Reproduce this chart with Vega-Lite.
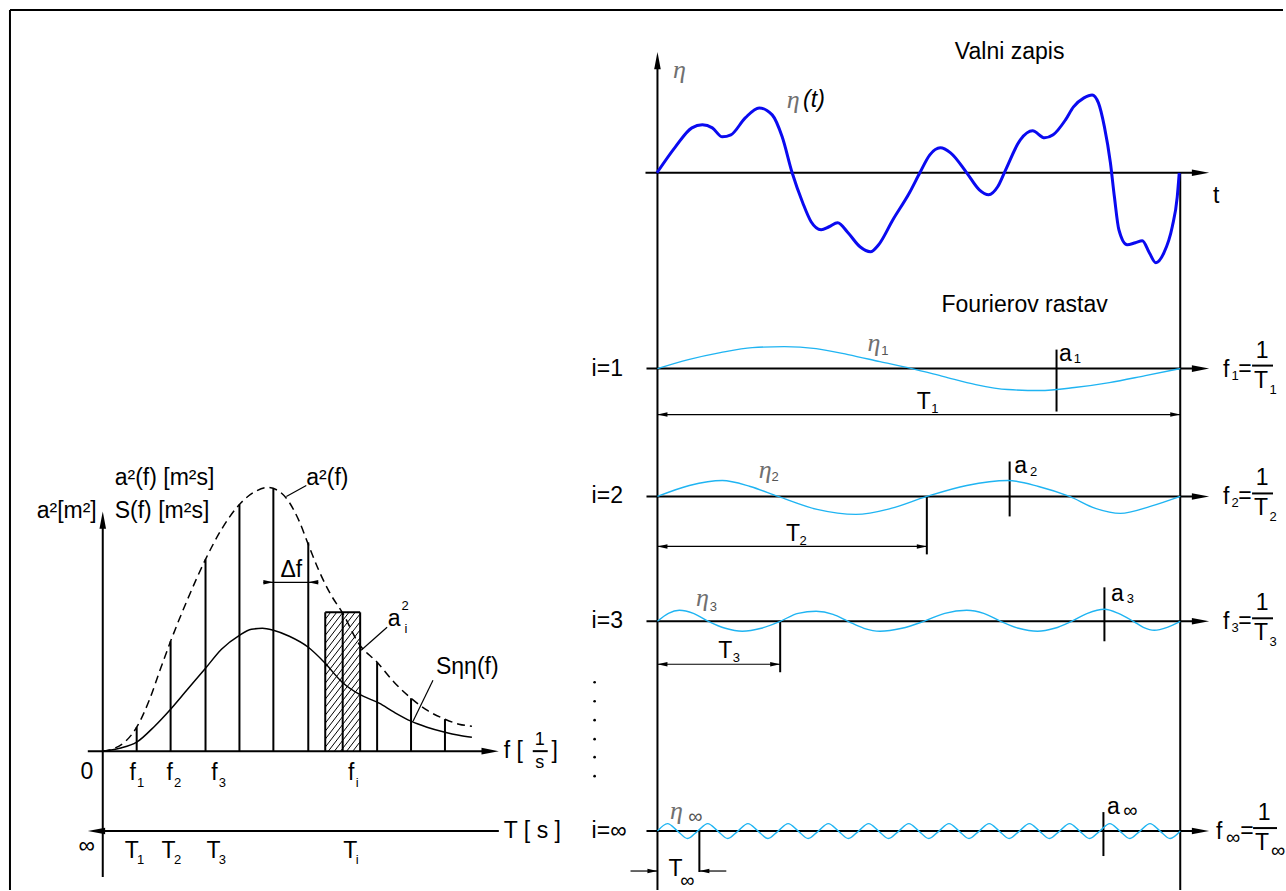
{
"$schema": "https://vega.github.io/schema/vega-lite/v6.json",
"width": 1286, "height": 891,
"autosize": {"type": "fit", "contains": "padding"},
"padding": 0,
"background": "white",
"config": {"view": {"stroke": null}},
"datasets": {
"thick": [
{"x":10,"y":10,"x2":1286,"y2":10},{"x":10,"y":10,"x2":10,"y2":891},
{"x":103,"y":878,"x2":103,"y2":522},{"x":88,"y":752,"x2":490,"y2":752},{"x":98,"y":832,"x2":500,"y2":832},
{"x":137,"y":752,"x2":137,"y2":728},{"x":171,"y":752,"x2":171,"y2":642},{"x":206,"y":752,"x2":206,"y2":560},
{"x":240,"y":752,"x2":240,"y2":505},{"x":274,"y":752,"x2":274,"y2":489},{"x":309,"y":752,"x2":309,"y2":543},
{"x":378,"y":752,"x2":378,"y2":663},{"x":412,"y":752,"x2":412,"y2":699},{"x":446,"y":752,"x2":446,"y2":720},
{"x":326,"y":613,"x2":361,"y2":613},{"x":326,"y":613,"x2":326,"y2":752},{"x":361,"y":613,"x2":361,"y2":752},{"x":343.5,"y":613,"x2":343.5,"y2":752},
{"x":659,"y":891,"x2":659,"y2":64},{"x":1183,"y":173,"x2":1183,"y2":891},
{"x":647,"y":173,"x2":1200,"y2":173},{"x":648,"y":369,"x2":1200,"y2":369},{"x":648,"y":497,"x2":1200,"y2":497},
{"x":648,"y":622,"x2":1200,"y2":622},{"x":648,"y":832,"x2":1200,"y2":832},
{"x":929,"y":497,"x2":929,"y2":555},{"x":782,"y":622,"x2":782,"y2":673},{"x":701,"y":832,"x2":701,"y2":873},
{"x":1059,"y":350,"x2":1059,"y2":412},{"x":1012,"y":462,"x2":1012,"y2":517},{"x":1107,"y":588,"x2":1107,"y2":642},{"x":1106,"y":813,"x2":1106,"y2":857},
{"x":1255,"y":366,"x2":1276,"y2":366},{"x":1255,"y":494,"x2":1276,"y2":494},{"x":1255,"y":619,"x2":1276,"y2":619},{"x":1256,"y":829,"x2":1280,"y2":829},
{"x":534,"y":752,"x2":549,"y2":752}
],
"thin": [
{"x":659,"y":415,"x2":1183,"y2":415},{"x":659,"y":547,"x2":929,"y2":547},{"x":659,"y":665,"x2":782,"y2":665},
{"x":632,"y":872,"x2":659,"y2":872},{"x":701,"y":872,"x2":728,"y2":872},{"x":264,"y":583,"x2":319,"y2":583},
{"x":307,"y":486,"x2":287,"y2":497},{"x":388,"y":628,"x2":362,"y2":651},{"x":434,"y":681,"x2":414,"y2":722}
],
"hatch": [
{"x":326,"y":620,"x2":331.4,"y2":613},{"x":326,"y":628,"x2":337.5,"y2":613},{"x":326,"y":636,"x2":343.7,"y2":613},
{"x":326,"y":644,"x2":349.8,"y2":613},{"x":326,"y":652,"x2":356,"y2":613},{"x":326,"y":660,"x2":361,"y2":614.5},
{"x":326,"y":668,"x2":361,"y2":622.5},{"x":326,"y":676,"x2":361,"y2":630.5},{"x":326,"y":684,"x2":361,"y2":638.5},
{"x":326,"y":692,"x2":361,"y2":646.5},{"x":326,"y":700,"x2":361,"y2":654.5},{"x":326,"y":708,"x2":361,"y2":662.5},
{"x":326,"y":716,"x2":361,"y2":670.5},{"x":326,"y":724,"x2":361,"y2":678.5},{"x":326,"y":732,"x2":361,"y2":686.5},
{"x":326,"y":740,"x2":361,"y2":694.5},{"x":326,"y":748,"x2":361,"y2":702.5},{"x":329.1,"y":752,"x2":361,"y2":710.5},
{"x":335.2,"y":752,"x2":361,"y2":718.5},{"x":341.4,"y":752,"x2":361,"y2":726.5},{"x":347.5,"y":752,"x2":361,"y2":734.5},
{"x":353.7,"y":752,"x2":361,"y2":742.5},{"x":359.8,"y":752,"x2":361,"y2":750.5}
],
"bigR": [{"x":500,"y":752},{"x":1212,"y":173},{"x":1212,"y":369},{"x":1212,"y":497},{"x":1212,"y":622},{"x":1212,"y":832}],
"bigL": [{"x":88,"y":832}],
"bigU": [{"x":103,"y":512},{"x":659,"y":52}],
"dimR": [{"x":1183,"y":415},{"x":929,"y":547},{"x":782,"y":665},{"x":659,"y":872},{"x":274,"y":583}],
"dimL": [{"x":659,"y":415},{"x":659,"y":547},{"x":659,"y":665},{"x":701,"y":872},{"x":309,"y":583}],
"dots": [{"x":596,"y":683},{"x":596,"y":702},{"x":596,"y":721},{"x":596,"y":740},{"x":596,"y":758},{"x":596,"y":777}],
"dash": [
{"x":103,"y":752},{"x":115,"y":749},{"x":126,"y":742},{"x":137,"y":728},{"x":150,"y":700},{"x":160,"y":672},{"x":171,"y":642},
{"x":188,"y":600},{"x":206,"y":560},{"x":222,"y":530},{"x":240,"y":505},{"x":256,"y":492},{"x":268,"y":488},{"x":280,"y":492},
{"x":290,"y":503},{"x":300,"y":522},{"x":309,"y":545},{"x":320,"y":572},{"x":332,"y":596},{"x":343,"y":613},{"x":360,"y":645},
{"x":378,"y":663},{"x":395,"y":683},{"x":412,"y":699},{"x":428,"y":711},{"x":446,"y":720},{"x":460,"y":725},{"x":473,"y":727}
],
"spec": [
{"x":103,"y":752},{"x":120,"y":749},{"x":137,"y":743},{"x":155,"y":727},{"x":171,"y":710},{"x":188,"y":690},{"x":206,"y":669},
{"x":222,"y":650},{"x":240,"y":636},{"x":252,"y":630},{"x":263,"y":629},{"x":274,"y":631},{"x":290,"y":637},{"x":309,"y":648},
{"x":325,"y":663},{"x":343,"y":683},{"x":360,"y":695},{"x":380,"y":704},{"x":395,"y":713},{"x":412,"y":722},{"x":428,"y":728},
{"x":446,"y":733},{"x":460,"y":736},{"x":473,"y":738}
],
"wave": [
{"x":658.5,"y":173},{"x":677,"y":147},{"x":693.5,"y":128},{"x":704,"y":125},{"x":714,"y":128},{"x":724,"y":137},{"x":732.6,"y":135},
{"x":747,"y":118},{"x":761,"y":108},{"x":774,"y":115},{"x":784,"y":137},{"x":794,"y":173},{"x":804.6,"y":203},{"x":813,"y":222},
{"x":823,"y":230},{"x":831,"y":227},{"x":839.6,"y":223},{"x":850,"y":233},{"x":862,"y":247},{"x":872.5,"y":252},{"x":880.7,"y":245},
{"x":895,"y":220},{"x":911.6,"y":193},{"x":922,"y":173},{"x":932,"y":155},{"x":942.5,"y":148},{"x":952.8,"y":153},{"x":969,"y":173},
{"x":981.6,"y":190},{"x":991,"y":195},{"x":1000,"y":187},{"x":1008,"y":170},{"x":1022.7,"y":140},{"x":1035,"y":131},{"x":1047,"y":138},
{"x":1055.6,"y":135},{"x":1068,"y":120},{"x":1076,"y":107},{"x":1086.5,"y":98},{"x":1094.7,"y":95},{"x":1101,"y":103},{"x":1107,"y":127},
{"x":1113,"y":163},{"x":1117,"y":197},{"x":1121.5,"y":230},{"x":1129.7,"y":245},{"x":1138,"y":243},{"x":1145,"y":241},{"x":1152,"y":253},
{"x":1158.5,"y":263},{"x":1166.7,"y":253},{"x":1175,"y":227},{"x":1180,"y":197},{"x":1182,"y":173}
],
"sines": [
{"s":"1","x":659,"y":369},{"s":"1","x":690,"y":360},{"s":"1","x":722,"y":353},{"s":"1","x":754,"y":348},{"s":"1","x":786,"y":347},
{"s":"1","x":818,"y":349},{"s":"1","x":850,"y":355},{"s":"1","x":882,"y":362},{"s":"1","x":914,"y":369},{"s":"1","x":946,"y":377},
{"s":"1","x":978,"y":385},{"s":"1","x":1010,"y":390},{"s":"1","x":1042,"y":391},{"s":"1","x":1077,"y":388},{"s":"1","x":1112,"y":383},
{"s":"1","x":1148,"y":376},{"s":"1","x":1183,"y":369},
{"s":"2","x":659,"y":497},{"s":"2","x":691,"y":486},{"s":"2","x":724,"y":481},{"s":"2","x":752,"y":487},{"s":"2","x":780,"y":497},
{"s":"2","x":819,"y":510},{"s":"2","x":858,"y":515},{"s":"2","x":893,"y":509},{"s":"2","x":929,"y":497},{"s":"2","x":969,"y":486},
{"s":"2","x":1010,"y":481},{"s":"2","x":1041,"y":487},{"s":"2","x":1072,"y":497},{"s":"2","x":1098,"y":509},{"s":"2","x":1123,"y":514},
{"s":"2","x":1153,"y":507},{"s":"2","x":1183,"y":497},
{"s":"3","x":659,"y":622},{"s":"3","x":670,"y":614},{"s":"3","x":681,"y":611},{"s":"3","x":695,"y":614},{"s":"3","x":710,"y":622},
{"s":"3","x":727,"y":629},{"s":"3","x":744,"y":632},{"s":"3","x":763,"y":629},{"s":"3","x":782,"y":622},{"s":"3","x":800,"y":614},
{"s":"3","x":818,"y":612},{"s":"3","x":835,"y":615},{"s":"3","x":850,"y":622},{"s":"3","x":866,"y":629},{"s":"3","x":882,"y":632},
{"s":"3","x":904,"y":629},{"s":"3","x":926,"y":622},{"s":"3","x":947,"y":614},{"s":"3","x":969,"y":611},{"s":"3","x":986,"y":614},
{"s":"3","x":1003,"y":622},{"s":"3","x":1021,"y":629},{"s":"3","x":1040,"y":632},{"s":"3","x":1057,"y":629},{"s":"3","x":1074,"y":622},
{"s":"3","x":1090,"y":614},{"s":"3","x":1107,"y":610},{"s":"3","x":1121,"y":614},{"s":"3","x":1136,"y":622},{"s":"3","x":1146,"y":628},
{"s":"3","x":1157,"y":631},{"s":"3","x":1170,"y":628},{"s":"3","x":1183,"y":622},
{"s":"inf","x":659,"y":832},{"s":"inf","x":669.1,"y":824.5},{"s":"inf","x":679.2,"y":832},{"s":"inf","x":689.2,"y":839.5},
{"s":"inf","x":699.3,"y":832},{"s":"inf","x":709.4,"y":824.5},{"s":"inf","x":719.5,"y":832},{"s":"inf","x":729.5,"y":839.5},
{"s":"inf","x":739.6,"y":832},{"s":"inf","x":749.7,"y":824.5},{"s":"inf","x":759.8,"y":832},{"s":"inf","x":769.8,"y":839.5},
{"s":"inf","x":779.9,"y":832},{"s":"inf","x":790,"y":824.5},{"s":"inf","x":800.1,"y":832},{"s":"inf","x":810.1,"y":839.5},
{"s":"inf","x":820.2,"y":832},{"s":"inf","x":830.3,"y":824.5},{"s":"inf","x":840.4,"y":832},{"s":"inf","x":850.4,"y":839.5},
{"s":"inf","x":860.5,"y":832},{"s":"inf","x":870.6,"y":824.5},{"s":"inf","x":880.7,"y":832},{"s":"inf","x":890.7,"y":839.5},
{"s":"inf","x":900.8,"y":832},{"s":"inf","x":910.9,"y":824.5},{"s":"inf","x":921,"y":832},{"s":"inf","x":931,"y":839.5},
{"s":"inf","x":941.1,"y":832},{"s":"inf","x":951.2,"y":824.5},{"s":"inf","x":961.3,"y":832},{"s":"inf","x":971.3,"y":839.5},
{"s":"inf","x":981.4,"y":832},{"s":"inf","x":991.5,"y":824.5},{"s":"inf","x":1001.6,"y":832},{"s":"inf","x":1011.6,"y":839.5},
{"s":"inf","x":1021.7,"y":832},{"s":"inf","x":1031.8,"y":824.5},{"s":"inf","x":1041.9,"y":832},{"s":"inf","x":1051.9,"y":839.5},
{"s":"inf","x":1062,"y":832},{"s":"inf","x":1072.1,"y":824.5},{"s":"inf","x":1082.2,"y":832},{"s":"inf","x":1092.2,"y":839.5},
{"s":"inf","x":1102.3,"y":832},{"s":"inf","x":1112.4,"y":824.5},{"s":"inf","x":1122.5,"y":832},{"s":"inf","x":1132.5,"y":839.5},
{"s":"inf","x":1142.6,"y":832},{"s":"inf","x":1152.7,"y":824.5},{"s":"inf","x":1162.8,"y":832},{"s":"inf","x":1172.8,"y":839.5},
{"s":"inf","x":1183,"y":832}
],
"tc": [
{"t":"Valni zapis","x":1012,"y":52},{"t":"Fourierov rastav","x":1027,"y":305},{"t":"Δf","x":292,"y":571},
{"t":"0","x":87,"y":773},{"t":"t","x":1219,"y":196},{"t":"∞","x":87,"y":847},
{"t":"f","x":133,"y":774},{"t":"f","x":170,"y":774},{"t":"f","x":215,"y":774},{"t":"f","x":352,"y":774},
{"t":"T","x":132,"y":852},{"t":"T","x":169,"y":852},{"t":"T","x":214,"y":852},{"t":"T","x":351,"y":852},
{"t":"]","x":556,"y":752},
{"t":"f","x":1229,"y":370},{"t":"=","x":1248,"y":369},{"t":"1","x":1265,"y":351},{"t":"T","x":1264,"y":381},
{"t":"f","x":1229,"y":498},{"t":"=","x":1248,"y":497},{"t":"1","x":1265,"y":479},{"t":"T","x":1264,"y":509},
{"t":"f","x":1229,"y":623},{"t":"=","x":1248,"y":622},{"t":"1","x":1265,"y":604},{"t":"T","x":1264,"y":634},
{"t":"f","x":1222,"y":833},{"t":"=","x":1250,"y":832},{"t":"1","x":1267,"y":814},{"t":"T","x":1265,"y":844},
{"t":"T","x":926,"y":402},{"t":"T","x":795,"y":535},{"t":"T","x":727,"y":652},{"t":"T","x":677,"y":870},
{"t":"a","x":1068,"y":354},{"t":"a","x":1023,"y":467},{"t":"a","x":1120,"y":595},{"t":"a","x":1116,"y":808},{"t":"a","x":395,"y":620}
],
"frac": [{"t":"1","x":541,"y":741},{"t":"s","x":541,"y":764}],
"tl": [
{"t":"a²(f) [m²s]","x":115,"y":479},{"t":"S(f) [m²s]","x":115,"y":512},{"t":"a²(f)","x":307,"y":479},
{"t":"Sηη(f)","x":437,"y":668},{"t":"T [ s ]","x":505,"y":832},{"t":"f [","x":505,"y":752},
{"t":"i=1","x":593,"y":369},{"t":"i=2","x":593,"y":497},{"t":"i=3","x":593,"y":622},{"t":"i=∞","x":593,"y":832}
],
"tr": [{"t":"a²[m²]","x":97,"y":512}],
"sub": [
{"t":"1","x":141,"y":784},{"t":"2","x":178,"y":784},{"t":"3","x":223,"y":784},{"t":"i","x":358,"y":784},
{"t":"1","x":141,"y":861},{"t":"2","x":178,"y":861},{"t":"3","x":223,"y":861},{"t":"i","x":358,"y":861},
{"t":"1","x":1238,"y":376},{"t":"2","x":1238,"y":504},{"t":"3","x":1238,"y":629},
{"t":"1","x":1276,"y":390},{"t":"2","x":1276,"y":518},{"t":"3","x":1276,"y":643},
{"t":"1","x":937,"y":409},{"t":"2","x":805,"y":542},{"t":"3","x":738,"y":659},
{"t":"1","x":1080,"y":359},{"t":"2","x":1036,"y":473},{"t":"3","x":1133,"y":600},
{"t":"2","x":406,"y":607},{"t":"i","x":407,"y":630}
],
"subinf": [
{"t":"∞","x":1236,"y":839},{"t":"∞","x":1281,"y":852},{"t":"∞","x":689,"y":882},{"t":"∞","x":1133,"y":812}
],
"greek": [
{"t":"η","x":681,"y":70},{"t":"η","x":795,"y":100},{"t":"η","x":876,"y":343},{"t":"η","x":767,"y":471},{"t":"η","x":704,"y":599},{"t":"η","x":678,"y":812}
],
"gsub": [{"t":"1","x":887,"y":351},{"t":"2","x":777,"y":478},{"t":"3","x":715,"y":608}],
"gsubinf": [{"t":"∞","x":697,"y":818}],
"tit": [{"t":"(t)","x":805,"y":100}]
},
"encoding": {
"x": {"field": "x", "type": "quantitative", "scale": {"domain": [0, 1286], "nice": false, "zero": false}, "axis": null},
"y": {"field": "y", "type": "quantitative", "scale": {"domain": [0, 891], "nice": false, "zero": false, "reverse": true}, "axis": null}
},
"layer": [
{"data": {"name": "hatch"}, "mark": {"type": "rule", "color": "black", "strokeWidth": 1}, "encoding": {"x2": {"field": "x2"}, "y2": {"field": "y2"}}},
{"data": {"name": "thin"}, "mark": {"type": "rule", "color": "black", "strokeWidth": 1.2}, "encoding": {"x2": {"field": "x2"}, "y2": {"field": "y2"}}},
{"data": {"name": "thick"}, "mark": {"type": "rule", "color": "black", "strokeWidth": 2}, "encoding": {"x2": {"field": "x2"}, "y2": {"field": "y2"}}},
{"data": {"name": "dash"}, "mark": {"type": "line", "color": "black", "strokeWidth": 1.5, "strokeDash": [8, 5], "interpolate": "monotone"}},
{"data": {"name": "spec"}, "mark": {"type": "line", "color": "black", "strokeWidth": 1.5, "interpolate": "monotone"}},
{"data": {"name": "sines"}, "mark": {"type": "line", "color": "#1fb4f2", "strokeWidth": 1.4, "interpolate": "monotone"}, "encoding": {"detail": {"field": "s"}}},
{"data": {"name": "wave"}, "mark": {"type": "line", "color": "#0a0af0", "strokeWidth": 3, "interpolate": "monotone"}},
{"data": {"name": "bigR"}, "mark": {"type": "point", "shape": "M0,0L-2,-0.38L-2,0.38Z", "size": 300, "filled": true, "color": "black", "opacity": 1, "strokeWidth": 0}},
{"data": {"name": "bigL"}, "mark": {"type": "point", "shape": "M0,0L2,-0.38L2,0.38Z", "size": 300, "filled": true, "color": "black", "opacity": 1, "strokeWidth": 0}},
{"data": {"name": "bigU"}, "mark": {"type": "point", "shape": "M0,0L-0.38,2L0.38,2Z", "size": 300, "filled": true, "color": "black", "opacity": 1, "strokeWidth": 0}},
{"data": {"name": "dimR"}, "mark": {"type": "point", "shape": "M0,0L-2,-0.45L-2,0.45Z", "size": 100, "filled": true, "color": "black", "opacity": 1, "strokeWidth": 0}},
{"data": {"name": "dimL"}, "mark": {"type": "point", "shape": "M0,0L2,-0.45L2,0.45Z", "size": 100, "filled": true, "color": "black", "opacity": 1, "strokeWidth": 0}},
{"data": {"name": "dots"}, "mark": {"type": "point", "shape": "circle", "size": 7, "filled": true, "color": "black", "opacity": 1}},
{"data": {"name": "tc"}, "mark": {"type": "text", "font": "Liberation Sans", "fontSize": 23, "align": "center", "baseline": "middle", "color": "black"}, "encoding": {"text": {"field": "t"}}},
{"data": {"name": "frac"}, "mark": {"type": "text", "font": "Liberation Sans", "fontSize": 18, "align": "center", "baseline": "middle", "color": "black"}, "encoding": {"text": {"field": "t"}}},
{"data": {"name": "tl"}, "mark": {"type": "text", "font": "Liberation Sans", "fontSize": 23, "align": "left", "baseline": "middle", "color": "black"}, "encoding": {"text": {"field": "t"}}},
{"data": {"name": "tr"}, "mark": {"type": "text", "font": "Liberation Sans", "fontSize": 23, "align": "right", "baseline": "middle", "color": "black"}, "encoding": {"text": {"field": "t"}}},
{"data": {"name": "sub"}, "mark": {"type": "text", "font": "Liberation Sans", "fontSize": 13, "align": "center", "baseline": "middle", "color": "black"}, "encoding": {"text": {"field": "t"}}},
{"data": {"name": "subinf"}, "mark": {"type": "text", "font": "Liberation Sans", "fontSize": 20, "align": "center", "baseline": "middle", "color": "black"}, "encoding": {"text": {"field": "t"}}},
{"data": {"name": "greek"}, "mark": {"type": "text", "font": "Liberation Serif", "fontStyle": "italic", "fontSize": 26, "align": "center", "baseline": "middle", "color": "#707070"}, "encoding": {"text": {"field": "t"}}},
{"data": {"name": "gsub"}, "mark": {"type": "text", "font": "Liberation Sans", "fontSize": 13, "align": "center", "baseline": "middle", "color": "#555555"}, "encoding": {"text": {"field": "t"}}},
{"data": {"name": "gsubinf"}, "mark": {"type": "text", "font": "Liberation Sans", "fontSize": 20, "align": "center", "baseline": "middle", "color": "#555555"}, "encoding": {"text": {"field": "t"}}},
{"data": {"name": "tit"}, "mark": {"type": "text", "font": "Liberation Sans", "fontStyle": "italic", "fontSize": 23, "align": "left", "baseline": "middle", "color": "black"}, "encoding": {"text": {"field": "t"}}}
]
}
